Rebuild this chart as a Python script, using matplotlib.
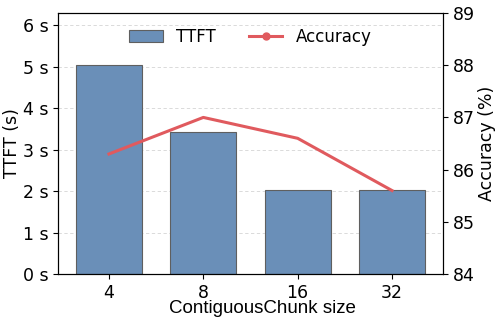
import numpy as np
import matplotlib
matplotlib.use("Agg")
import matplotlib.pyplot as plt
from matplotlib.lines import Line2D
from matplotlib.patches import Patch

chunk_sizes = ["4", "8", "16", "32"]
ttft = [5.03, 3.42, 2.03, 2.03]
accuracy = [86.3, 87.0, 86.6, 85.6]

bar_color = "#6a8fb8"
line_color = "#e05a5e"

fig = plt.figure(figsize=(4.98, 3.24), dpi=100)
ax = fig.add_axes([0.1165, 0.154, 0.773, 0.806])
x = np.arange(len(chunk_sizes))

ax.bar(x, ttft, width=0.7, color=bar_color, edgecolor="#5f5f5f", linewidth=0.8, zorder=2)
ax.set_xlim(-0.54, 3.54)
ax.set_ylim(0, 6.29)
ax.set_yticks(range(0, 7))
ax.set_yticklabels([f"{i} s" for i in range(0, 7)])
ax.set_xticks(x)
ax.set_xticklabels(chunk_sizes)
ax.tick_params(labelsize=12.5)
ax.grid(axis="y", linestyle=(0, (4, 3)), color="#d5d5d5", linewidth=0.6, zorder=0)
ax.set_axisbelow(True)
ax.set_ylabel("TTFT (s)", fontsize=12.5, labelpad=1)
ax.set_xlabel("ContiguousChunk size", fontsize=13.5, family="Liberation Sans")
ax.xaxis.set_label_coords(0.532, -0.1)

ax2 = ax.twinx()
ax2.plot(x, accuracy, color=line_color, linewidth=2.2, zorder=3)
ax2.set_ylim(84, 89)
ax2.set_yticks(range(84, 90))
ax2.tick_params(labelsize=12.5)
ax2.set_ylabel("Accuracy (%)", fontsize=12.5, labelpad=2)

handles = [
    Patch(facecolor=bar_color, edgecolor="#5f5f5f", linewidth=0.8, label="TTFT"),
    Line2D([0], [0], color=line_color, linewidth=2.2, marker="o", markersize=5, label="Accuracy"),
]
ax.legend(handles=handles, loc="upper center", ncol=2, frameon=False, fontsize=12,
          bbox_to_anchor=(0.5, 1.0), columnspacing=2.0, handlelength=2.0)

fig.savefig("out.png", dpi=100)
